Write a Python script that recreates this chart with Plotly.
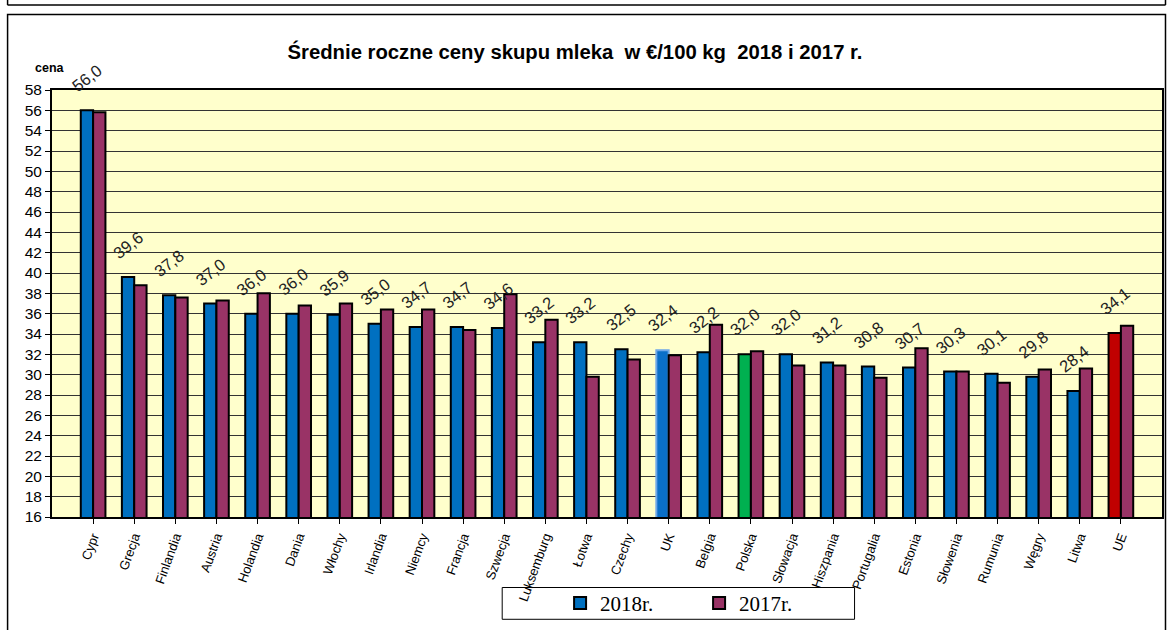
import plotly.graph_objects as go

categories = ["Cypr", "Grecja", "Finlandia", "Austria", "Holandia", "Dania", "Włochy",
              "Irlandia", "Niemcy", "Francja", "Szwecja", "Luksemburg", "Łotwa", "Czechy",
              "UK", "Belgia", "Polska", "Słowacja", "Hiszpania", "Portugalia", "Estonia",
              "Słowenia", "Rumunia", "Węgry", "Litwa", "UE"]
v2018 = [56.0, 39.6, 37.8, 37.0, 36.0, 36.0, 35.9, 35.0, 34.7, 34.7, 34.6, 33.2, 33.2, 32.5,
         32.4, 32.2, 32.0, 32.0, 31.2, 30.8, 30.7, 30.3, 30.1, 29.8, 28.4, 34.1]
v2017 = [55.8, 38.8, 37.6, 37.3, 38.0, 36.8, 37.0, 36.4, 36.4, 34.4, 37.9, 35.4, 29.8, 31.5,
         31.9, 34.9, 32.3, 30.9, 30.9, 29.7, 32.6, 30.3, 29.2, 30.5, 30.6, 34.8]
ytick_vals = list(range(16, 59, 2))

W, H = 1170, 630
L, R, T, B = 52, 1164, 90, 520


def px(x):
    return (x - L) / (R - L)


def py(y):
    return (B - y) / (B - T)


c2018 = []
l2018 = []
for c in categories:
    if c == "Polska":
        c2018.append("#00B050"); l2018.append("#000000")
    elif c == "UE":
        c2018.append("#C00000"); l2018.append("#000000")
    elif c == "UK":
        c2018.append("#0A6FC8"); l2018.append("#6FA8E8")
    else:
        c2018.append("#0070C0"); l2018.append("#000000")

fig = go.Figure()
fig.add_trace(go.Bar(x=categories, y=v2018, name="2018r.",
                     marker=dict(color=c2018, line=dict(color=l2018, width=2))))
fig.add_trace(go.Bar(x=categories, y=v2017, name="2017r.",
                     marker=dict(color="#993366", line=dict(color="#000000", width=2))))

annotations = []
for i, v in enumerate(v2018):
    annotations.append(dict(x=i - 0.15, y=v, xref="x", yref="y",
                            text=f"{v:.1f}".replace(".", ","), showarrow=False,
                            textangle=-38, xanchor="center", yanchor="middle", yshift=32,
                            font=dict(family="Arial, Liberation Sans", size=16.5, color="#222222")))
annotations.append(dict(x=px(50), y=py(68), xref="paper", yref="paper", text="<b>cena</b>",
                        showarrow=False, xanchor="center", yanchor="middle",
                        font=dict(family="Arial, Liberation Sans", size=12.5, color="#000000")))

shapes = [
    dict(type="rect", xref="paper", yref="paper", x0=px(7.5), x1=px(1167.5), y0=py(14), y1=py(640),
         line=dict(color="#000000", width=1.5), layer="below"),
    dict(type="line", xref="paper", yref="paper", x0=px(7.5), x1=px(1167.5), y0=py(4.5), y1=py(4.5),
         line=dict(color="#000000", width=1.5)),
    dict(type="line", xref="paper", yref="paper", x0=px(7.5), x1=px(7.5), y0=py(-2), y1=py(4.5),
         line=dict(color="#000000", width=1.5)),
    dict(type="line", xref="paper", yref="paper", x0=px(1167.5), x1=px(1167.5), y0=py(-2), y1=py(4.5),
         line=dict(color="#000000", width=1.5)),
    dict(type="rect", xref="paper", yref="paper", x0=px(503), x1=px(856), y0=py(591), y1=py(623),
         line=dict(color="#000000", width=1), fillcolor="#FFFFFF", layer="below"),
]

fig.update_layout(
    width=W, height=H,
    margin=dict(l=L, r=W - R, t=T, b=H - B),
    paper_bgcolor="#FFFFFF",
    plot_bgcolor="#FFFFCC",
    barmode="group", bargap=0.4, bargroupgap=0.0,
    title=dict(text="<b>Średnie roczne ceny skupu mleka\u00a0 w €/100 kg\u00a0 2018 i 2017 r.</b>",
               x=575 / W, xanchor="center", y=1 - 52 / H, yanchor="middle",
               font=dict(family="Arial, Liberation Sans", size=20.3, color="#000000")),
    xaxis=dict(range=[-1, 26], tickangle=-70, showline=True, linecolor="#000000", linewidth=2,
               mirror=True, ticks="outside", ticklen=5, tickcolor="#000000",
               tickfont=dict(family="Arial, Liberation Sans", size=13, color="#000000"),
               showgrid=False, fixedrange=True),
    yaxis=dict(range=[16, 58], tickvals=ytick_vals, showline=True, linecolor="#000000",
               linewidth=2, mirror=True, ticks="outside", ticklen=5, tickcolor="#000000",
               showgrid=True, gridcolor="#333333", gridwidth=1,
               tickfont=dict(family="Arial, Liberation Sans", size=15.5, color="#000000"),
               zeroline=False),
    showlegend=True,
    legend=dict(orientation="h", x=px(561), xanchor="left", y=py(607), yanchor="middle",
                bgcolor="rgba(0,0,0,0)", borderwidth=0, entrywidth=94, entrywidthmode="pixels",
                font=dict(family="Times New Roman, Liberation Serif", size=21, color="#000000"),
                traceorder="normal"),
    annotations=annotations,
    shapes=shapes,
)

fig.write_html("out.html", config={"displayModeBar": False},
               post_script="document.body.style.margin='0px';")
